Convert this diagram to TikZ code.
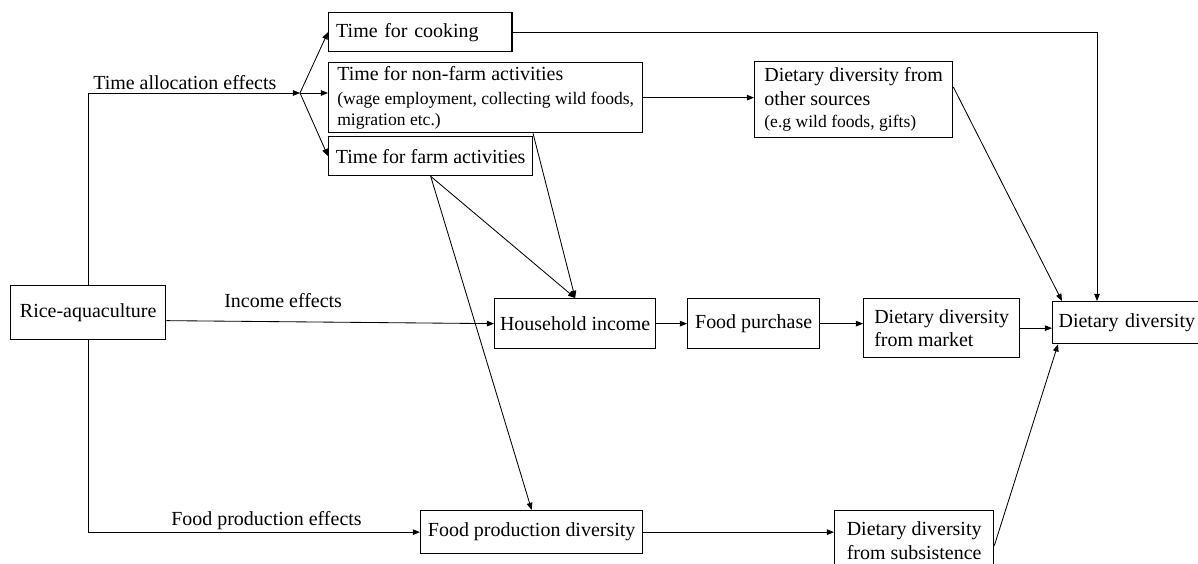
\documentclass[tikz,border=0pt]{standalone}
\usepackage{fontspec}
\setmainfont{Liberation Serif}
\usetikzlibrary{arrows.meta,calc}

\newcommand{\mainsize}{\fontsize{14.2}{17}\selectfont}
\newcommand{\notesize}{\fontsize{12.5}{14.5}\selectfont}

\tikzset{
    box/.style={draw, line width=0.9pt, anchor=north west, align=left, inner xsep=0.08cm, inner ysep=0.05cm, font=\mainsize},
    lbl/.style={anchor=base west, inner sep=0pt, font=\mainsize},
    link/.style={line width=0.6pt, -{Triangle[length=1.8mm, width=1.4mm]}}
}

\begin{document}
\begin{tikzpicture}[x=0.025cm, y=-0.025cm]
    \useasboundingbox (0,0) rectangle (1198,564);

    % Define the boxes
    \node[box, minimum width=3.875cm, minimum height=1.35cm] (rice) at (10,285) {Rice-aquaculture};
    \node[box, minimum width=4.575cm, minimum height=0.975cm, text width=4.2cm, inner xsep=0.19cm] (cook) at (328,12) {Time for cooking};
    \node[box, minimum width=7.85cm, minimum height=1.75cm] (nonfarm) at (328,62) {Time for non-farm activities\\[0.4pt]{\notesize (wage employment, collecting wild foods,}\\[-2.4pt]{\notesize migration etc.)}};
    \node[box, minimum width=4.95cm, minimum height=1.9cm] (other) at (754,61) {Dietary diversity from\\other sources\\[-1.4pt]{\notesize (e.g wild foods, gifts)}};
    \node[box, minimum width=5.1cm, minimum height=0.975cm] (farm) at (328,136) {Time for farm activities};
    \node[box, minimum width=4.025cm, minimum height=1.25cm] (income) at (494,298) {Household income};
    \node[box, minimum width=3.3cm, minimum height=1.25cm] (purchase) at (687,298) {Food purchase};
    \node[box, minimum width=3.9cm, minimum height=1.475cm] (market) at (863,298) {Dietary diversity\\from market};
    \node[box, minimum width=4.2cm, minimum height=1.05cm, text width=3.9cm, inner xsep=0.12cm] (dd) at (1052,301) {Dietary diversity};
    \node[box, minimum width=5.55cm, minimum height=1.075cm] (fpd) at (420,510) {Food production diversity};
    \node[box, minimum width=3.975cm, minimum height=1.5cm] (subsist) at (834,510) {Dietary diversity\\from subsistence};

    % Place the effect labels
    \node[lbl] (allocLbl) at (93,90) {Time allocation effects};
    \node[lbl] (incomeLbl) at (224,308) {Income effects};
    \node[lbl] (foodLbl) at (171,525) {Food production effects};

    % Draw the time allocation effects
    \coordinate (split) at (300,93);
    \draw[link] (rice.north) |- (split);
    \draw[link] (split) -- (cook.west);
    \draw[link] (split) -- (nonfarm.west |- split);
    \draw[link] (split) -- (farm.west);
    \draw[link] (cook.east) -| ($(dd.north west)+(45,0)$);
    \draw[link] (nonfarm.east) -- (nonfarm.east -| other.west);
    \draw[link] ($(other.north east)+(0,26)$) -- ($(dd.north west)+(10,0)$);
    \draw[link] (farm.south) -- (income.north);
    \draw[link] ($(nonfarm.south west)+(205,0)$) -- (income.north);
    \draw[link] (farm.south) -- (fpd.north);

    % Draw the income and food production effects
    \draw[link] ($(rice.east)+(0,8)$) -- (income.west);
    \draw[link] (rice.south) |- (fpd.west);
    \draw[link] (income.east) -- (purchase.west);
    \draw[link] (purchase.east) -- (purchase.east -| market.west);
    \draw[link] (market.east) -- (market.east -| dd.west);
    \draw[link] (fpd.east) -- (fpd.east -| subsist.west);
    \draw[link] ($(subsist.east)+(0,5)$) -- ($(dd.south west)+(6,0)$);

\end{tikzpicture}
\end{document}
